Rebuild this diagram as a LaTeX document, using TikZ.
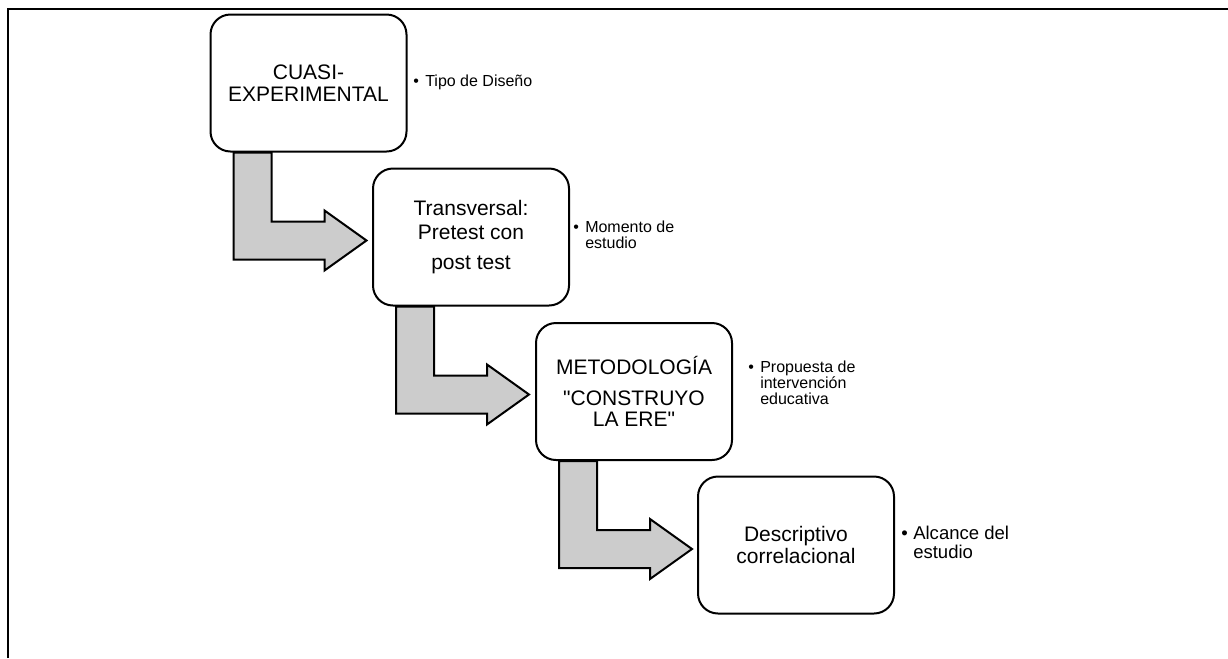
\documentclass[tikz,border=0pt]{standalone}
\usepackage{fontspec}
\setmainfont{Liberation Sans}
\usetikzlibrary{calc}
\newcommand{\bul}[1]{\makebox[9pt][l]{\textbullet}\begin{tabular}[t]{@{}l@{}}#1\end{tabular}}
\tikzset{caja/.style={draw, line width=1.5pt, rounded corners=15pt, fill=white, minimum width=147pt, minimum height=102.75pt, align=center, inner sep=0pt, font=\fontsize{15.75}{16}\selectfont},
	nota/.style={anchor=west, inner sep=0pt, align=left, font=\fontsize{12}{11.6}\selectfont},
	flecha/.style={draw, line width=1.5pt, fill=black!20, line join=miter}}
\begin{document}
\begin{tikzpicture}[x=0.75pt, y=-0.75pt, line join=round, line cap=round]
	\useasboundingbox (0,0) rectangle (1228,658);
	\draw[line width=1.5pt, line cap=butt, line join=miter] (8.3,658) |- (1228,9);
	\node[caja] (cuasi) at (308.5,83) {CUASI-\\EXPERIMENTAL};
	\node[caja] (trans) at (471,237) {Transversal:\\[2pt]Pretest con\\[6.5pt]post test};
	\node[caja] (metod) at (634,391.5) {METODOLOGÍA\\[7pt]\textquotedbl CONSTRUYO\\LA ERE\textquotedbl};
	\node[caja] (desc) at (796,545) {Descriptivo\\correlacional};
	\node[nota] (tipo) at (413,83) {\bul{Tipo de Diseño}};
	\node[nota] (momento) at (573,237) {\bul{Momento de\\estudio}};
	\node[nota] (propuesta) at (748,385) {\bul{Propuesta de\\intervención\\educativa}};
	\node[nota, font=\fontsize{13.9}{14.3}\selectfont] (alcance) at (901,545) {\bul{Alcance del\\estudio}};
%	\draw[red] (cuasi.east) -- (tipo.west);
	\foreach \a/\b in {cuasi/trans, trans/metod, metod/desc}
		\draw[flecha] ($(\a.south west)+(24,0)$) -- ++(0,107) -- ++(91,0) -- ++(0,11)
			-- ($(\a.south west)+(157,88)$) -- ($(\a.south west)+(115,58)$) -- ++(0,11)
			-- ($(\a.south west)+(62,69)$) -- ($(\a.south west)+(62,0)$) -- cycle;
\end{tikzpicture}
\end{document}
